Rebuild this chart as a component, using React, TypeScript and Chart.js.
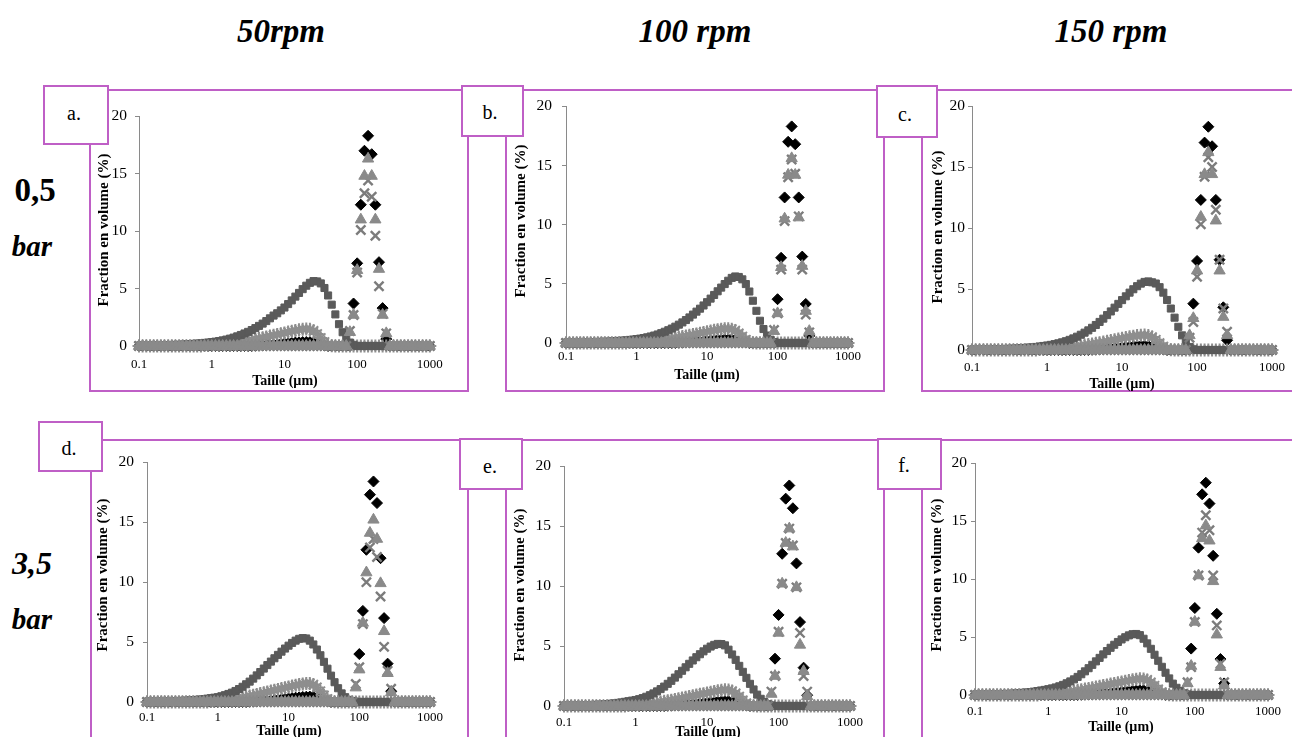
import React, { useEffect, useRef } from "react";
import { Chart, registerables } from "chart.js";
Chart.register(...registerables);

// ---------- DATA ----------
const SIZES = [
  0.1, 0.112, 0.126, 0.142, 0.159, 0.178, 0.2, 0.224, 0.252, 0.283,
  0.317, 0.356, 0.399, 0.448, 0.502, 0.564, 0.632, 0.71, 0.796, 0.893,
  1.002, 1.125, 1.262, 1.416, 1.589, 1.783, 2.0, 2.244, 2.518, 2.825,
  3.17, 3.557, 3.991, 4.477, 5.024, 5.637, 6.325, 7.096, 7.962, 8.934,
  10.02, 11.25, 12.62, 14.16, 15.89, 17.83, 20.0, 22.44, 25.18, 28.25,
  31.7, 35.57, 39.9, 44.77, 50.24, 56.37, 63.25, 70.96, 79.62, 89.34,
  100.2, 112.5, 126.2, 141.6, 158.9, 178.3, 200.0, 224.4, 251.8, 282.5,
  317.0, 355.7, 399.1, 447.7, 502.4, 563.7, 632.5, 709.6, 796.2, 893.4,
  1000,
];
const X_TICKS = [0.1, 1, 10, 100, 1000];
const Y_TICKS = [0, 5, 10, 15, 20];

// Panel a (50 rpm, 0,5 bar)
const A_SQUARES = [
  0.03, 0.03, 0.04, 0.04, 0.05, 0.05, 0.06, 0.07, 0.08, 0.09,
  0.10, 0.11, 0.13, 0.15, 0.17, 0.19, 0.21, 0.24, 0.27, 0.30,
  0.34, 0.38, 0.43, 0.49, 0.56, 0.64, 0.73, 0.84, 0.96, 1.09,
  1.23, 1.39, 1.56, 1.75, 1.95, 2.17, 2.41, 2.65, 2.85, 3.10,
  3.35, 3.65, 3.97, 4.30, 4.62, 4.95, 5.25, 5.50, 5.65, 5.62,
  5.45, 5.05, 4.40, 3.60, 2.75, 1.90, 1.20, 0.65, 0.30, 0.10,
  0, 0, 0, 0, 0, 0, 0, 0, 0, 0,
  0, 0, 0, 0, 0, 0, 0, 0, 0, 0,
  0,
];
const A_STARS = [
  0, 0, 0, 0, 0, 0, 0, 0, 0, 0,
  0, 0, 0, 0, 0, 0, 0, 0, 0.05, 0.07,
  0.10, 0.12, 0.15, 0.18, 0.21, 0.25, 0.29, 0.33, 0.38, 0.43,
  0.48, 0.54, 0.60, 0.66, 0.72, 0.79, 0.86, 0.93, 1.00, 1.07,
  1.14, 1.21, 1.28, 1.35, 1.41, 1.46, 1.48, 1.45, 1.32, 1.05,
  0.70, 0.35, 0.12, 0.03, 0, 0, 0, 0, 0, 0,
  0, 0, 0, 0, 0, 0, 0, 0, 0, 0,
  0, 0, 0, 0, 0, 0, 0, 0, 0, 0,
  0,
];
const A_DIAMONDS = [
  0, 0, 0, 0, 0, 0, 0, 0, 0, 0,
  0, 0, 0, 0, 0, 0, 0, 0, 0, 0,
  0, 0, 0, 0, 0, 0, 0, 0, 0, 0,
  0, 0, 0.02, 0.03, 0.05, 0.07, 0.09, 0.12, 0.15, 0.18,
  0.21, 0.24, 0.27, 0.30, 0.32, 0.34, 0.35, 0.34, 0.30, 0.22,
  0.12, 0.04, 0, 0, 0, 0, 0, 0, 0, 3.7,
  7.2, 12.3, 17.0, 18.3, 16.7, 12.3, 7.3, 3.3, 0.6, 0,
  0, 0, 0, 0, 0, 0, 0, 0, 0, 0,
  0,
];
const A_TRIANGLES = [
  0, 0, 0, 0, 0, 0, 0, 0, 0, 0,
  0, 0, 0, 0, 0, 0, 0, 0, 0, 0,
  0, 0, 0, 0, 0, 0, 0, 0, 0, 0,
  0, 0, 0, 0, 0, 0, 0, 0, 0, 0,
  0, 0, 0, 0, 0, 0, 0, 0, 0, 0,
  0, 0, 0, 0, 0, 0, 0, 0, 1.2, 2.7,
  6.6, 11.0, 14.8, 16.3, 14.8, 11.0, 6.7, 2.7, 1.1, 0,
  0, 0, 0, 0, 0, 0, 0, 0, 0, 0,
  0,
];
const A_CROSSES = [
  0, 0, 0, 0, 0, 0, 0, 0, 0, 0,
  0, 0, 0, 0, 0, 0, 0, 0, 0, 0,
  0, 0, 0, 0, 0, 0, 0, 0, 0, 0,
  0, 0, 0, 0, 0, 0, 0, 0, 0, 0,
  0, 0, 0, 0, 0, 0, 0, 0, 0, 0,
  0, 0, 0, 0, 0, 0, 0, 0, 1.3, 2.7,
  6.4, 10.1, 13.3, 14.4, 13.0, 9.6, 5.2, 2.8, 1.1, 0,
  0, 0, 0, 0, 0, 0, 0, 0, 0, 0,
  0,
];

// Panel b (100 rpm, 0,5 bar)
const B_SQUARES = [
  0.03, 0.03, 0.04, 0.04, 0.05, 0.05, 0.06, 0.07, 0.08, 0.09,
  0.10, 0.11, 0.12, 0.14, 0.16, 0.18, 0.20, 0.23, 0.26, 0.29,
  0.33, 0.37, 0.42, 0.48, 0.55, 0.63, 0.72, 0.83, 0.95, 1.08,
  1.22, 1.38, 1.55, 1.74, 1.94, 2.16, 2.40, 2.65, 2.90, 3.17,
  3.45, 3.75, 4.06, 4.37, 4.68, 4.98, 5.26, 5.50, 5.62, 5.58,
  5.38, 4.98, 4.35, 3.57, 2.72, 1.88, 1.18, 0.63, 0.28, 0.08,
  0, 0, 0, 0, 0, 0, 0, 0, 0, 0,
  0, 0, 0, 0, 0, 0, 0, 0, 0, 0,
  0,
];
const B_STARS = [
  0, 0, 0, 0, 0, 0, 0, 0, 0, 0,
  0, 0, 0, 0, 0, 0, 0, 0, 0.04, 0.06,
  0.08, 0.10, 0.12, 0.14, 0.17, 0.20, 0.23, 0.27, 0.31, 0.35,
  0.39, 0.44, 0.49, 0.54, 0.59, 0.65, 0.71, 0.77, 0.83, 0.89,
  0.95, 1.01, 1.07, 1.12, 1.17, 1.20, 1.21, 1.17, 1.05, 0.82,
  0.55, 0.28, 0.10, 0.03, 0, 0, 0, 0, 0, 0,
  0, 0, 0, 0, 0, 0, 0, 0, 0, 0,
  0, 0, 0, 0, 0, 0, 0, 0, 0, 0,
  0,
];
const B_DIAMONDS = [
  0, 0, 0, 0, 0, 0, 0, 0, 0, 0,
  0, 0, 0, 0, 0, 0, 0, 0, 0, 0,
  0, 0, 0, 0, 0, 0, 0, 0, 0, 0,
  0, 0, 0.02, 0.03, 0.04, 0.06, 0.08, 0.10, 0.13, 0.16,
  0.19, 0.22, 0.24, 0.26, 0.28, 0.30, 0.31, 0.30, 0.27, 0.20,
  0.11, 0.04, 0, 0, 0, 0, 0, 0, 0, 0,
  3.7, 7.2, 12.3, 17.0, 18.3, 16.8, 12.3, 7.3, 3.3, 0.6,
  0, 0, 0, 0, 0, 0, 0, 0, 0, 0,
  0,
];
const B_TRIANGLES = [
  0, 0, 0, 0, 0, 0, 0, 0, 0, 0,
  0, 0, 0, 0, 0, 0, 0, 0, 0, 0,
  0, 0, 0, 0, 0, 0, 0, 0, 0, 0,
  0, 0, 0, 0, 0, 0, 0, 0, 0, 0,
  0, 0, 0, 0, 0, 0, 0, 0, 0, 0,
  0, 0, 0, 0, 0, 0, 0, 0, 0, 1.0,
  2.5, 6.4, 10.5, 14.2, 15.6, 14.2, 10.6, 6.5, 2.7, 1.0,
  0, 0, 0, 0, 0, 0, 0, 0, 0, 0,
  0,
];
const B_CROSSES = [
  0, 0, 0, 0, 0, 0, 0, 0, 0, 0,
  0, 0, 0, 0, 0, 0, 0, 0, 0, 0,
  0, 0, 0, 0, 0, 0, 0, 0, 0, 0,
  0, 0, 0, 0, 0, 0, 0, 0, 0, 0,
  0, 0, 0, 0, 0, 0, 0, 0, 0, 0,
  0, 0, 0, 0, 0, 0, 0, 0, 0, 1.1,
  2.5, 6.2, 10.3, 14.0, 15.5, 14.3, 10.7, 6.2, 2.4, 0.9,
  0, 0, 0, 0, 0, 0, 0, 0, 0, 0,
  0,
];

// Panel c (150 rpm, 0,5 bar)
const C_SQUARES = [
  0.03, 0.03, 0.04, 0.04, 0.05, 0.06, 0.06, 0.07, 0.08, 0.09,
  0.10, 0.12, 0.13, 0.15, 0.17, 0.20, 0.22, 0.25, 0.29, 0.33,
  0.37, 0.42, 0.48, 0.55, 0.63, 0.72, 0.83, 0.95, 1.09, 1.25,
  1.42, 1.61, 1.82, 2.05, 2.30, 2.57, 2.86, 3.16, 3.47, 3.78,
  4.09, 4.40, 4.70, 4.98, 5.23, 5.44, 5.58, 5.62, 5.55, 5.45,
  5.15, 4.70, 4.10, 3.40, 2.65, 1.90, 1.20, 0.60, 0.25, 0.06,
  0, 0, 0, 0, 0, 0, 0, 0, 0, 0,
  0, 0, 0, 0, 0, 0, 0, 0, 0, 0,
  0,
];
const C_STARS = [
  0, 0, 0, 0, 0, 0, 0, 0, 0, 0,
  0, 0, 0, 0, 0, 0, 0, 0, 0.04, 0.06,
  0.08, 0.10, 0.12, 0.14, 0.17, 0.20, 0.23, 0.27, 0.31, 0.35,
  0.40, 0.45, 0.50, 0.55, 0.60, 0.66, 0.72, 0.78, 0.84, 0.90,
  0.96, 1.02, 1.08, 1.13, 1.18, 1.21, 1.22, 1.18, 1.06, 0.84,
  0.56, 0.29, 0.11, 0.03, 0, 0, 0, 0, 0, 0,
  0, 0, 0, 0, 0, 0, 0, 0, 0, 0,
  0, 0, 0, 0, 0, 0, 0, 0, 0, 0,
  0,
];
const C_DIAMONDS = [
  0, 0, 0, 0, 0, 0, 0, 0, 0, 0,
  0, 0, 0, 0, 0, 0, 0, 0, 0, 0,
  0, 0, 0, 0, 0, 0, 0, 0, 0, 0,
  0, 0, 0.02, 0.03, 0.05, 0.07, 0.09, 0.12, 0.15, 0.18,
  0.21, 0.24, 0.27, 0.30, 0.32, 0.34, 0.35, 0.34, 0.30, 0.22,
  0.12, 0.04, 0, 0, 0, 0, 0, 0, 0, 3.8,
  7.3, 12.3, 17.0, 18.3, 16.7, 12.3, 7.4, 3.5, 0.8, 0,
  0, 0, 0, 0, 0, 0, 0, 0, 0, 0,
  0,
];
const C_TRIANGLES = [
  0, 0, 0, 0, 0, 0, 0, 0, 0, 0,
  0, 0, 0, 0, 0, 0, 0, 0, 0, 0,
  0, 0, 0, 0, 0, 0, 0, 0, 0, 0,
  0, 0, 0, 0, 0, 0, 0, 0, 0, 0,
  0, 0, 0, 0, 0, 0, 0, 0, 0, 0,
  0, 0, 0, 0, 0, 0, 0, 0, 1.2, 2.6,
  6.5, 10.9, 14.4, 16.2, 14.4, 10.6, 6.5, 2.7, 1.2, 0,
  0, 0, 0, 0, 0, 0, 0, 0, 0, 0,
  0,
];
const C_CROSSES = [
  0, 0, 0, 0, 0, 0, 0, 0, 0, 0,
  0, 0, 0, 0, 0, 0, 0, 0, 0, 0,
  0, 0, 0, 0, 0, 0, 0, 0, 0, 0,
  0, 0, 0, 0, 0, 0, 0, 0, 0, 0,
  0, 0, 0, 0, 0, 0, 0, 0, 0, 0,
  0, 0, 0, 0, 0, 0, 0, 0, 1.0, 2.3,
  6.0, 10.3, 14.2, 15.8, 15.0, 11.5, 7.4, 3.4, 1.5, 0,
  0, 0, 0, 0, 0, 0, 0, 0, 0, 0,
  0,
];

// Panel d (50 rpm, 3,5 bar)
const D_SQUARES = [
  0.03, 0.03, 0.04, 0.04, 0.05, 0.06, 0.06, 0.07, 0.08, 0.09,
  0.10, 0.12, 0.14, 0.16, 0.18, 0.21, 0.24, 0.28, 0.32, 0.36,
  0.40, 0.48, 0.57, 0.67, 0.78, 0.92, 1.08, 1.27, 1.48, 1.70,
  1.95, 2.22, 2.50, 2.79, 3.08, 3.37, 3.65, 3.93, 4.20, 4.46,
  4.70, 4.93, 5.12, 5.27, 5.33, 5.30, 5.12, 4.80, 4.38, 3.90,
  3.35, 2.78, 2.20, 1.65, 1.15, 0.72, 0.40, 0.18, 0.06, 0,
  0, 0, 0, 0, 0, 0, 0, 0, 0, 0,
  0, 0, 0, 0, 0, 0, 0, 0, 0, 0,
  0,
];
const D_STARS = [
  0, 0, 0, 0, 0, 0, 0, 0, 0, 0,
  0, 0, 0, 0, 0, 0, 0, 0, 0.05, 0.07,
  0.10, 0.13, 0.16, 0.20, 0.24, 0.28, 0.33, 0.38, 0.44, 0.50,
  0.56, 0.63, 0.70, 0.77, 0.84, 0.91, 0.98, 1.05, 1.12, 1.19,
  1.26, 1.33, 1.40, 1.46, 1.51, 1.55, 1.55, 1.45, 1.22, 0.90,
  0.55, 0.25, 0.08, 0.02, 0, 0, 0, 0, 0, 0,
  0, 0, 0, 0, 0, 0, 0, 0, 0, 0,
  0, 0, 0, 0, 0, 0, 0, 0, 0, 0,
  0,
];
const D_DIAMONDS = [
  0, 0, 0, 0, 0, 0, 0, 0, 0, 0,
  0, 0, 0, 0, 0, 0, 0, 0, 0, 0,
  0, 0, 0, 0, 0, 0, 0, 0, 0, 0.02,
  0.03, 0.04, 0.06, 0.08, 0.10, 0.13, 0.16, 0.19, 0.22, 0.26,
  0.29, 0.33, 0.36, 0.39, 0.42, 0.44, 0.45, 0.43, 0.38, 0.29,
  0.17, 0.06, 0, 0, 0, 0, 0, 0, 0, 0,
  4.0, 7.6, 12.7, 17.3, 18.4, 16.6, 12.0, 7.0, 3.2, 0.9,
  0, 0, 0, 0, 0, 0, 0, 0, 0, 0,
  0,
];
const D_TRIANGLES = [
  0, 0, 0, 0, 0, 0, 0, 0, 0, 0,
  0, 0, 0, 0, 0, 0, 0, 0, 0, 0,
  0, 0, 0, 0, 0, 0, 0, 0, 0, 0,
  0, 0, 0, 0, 0, 0, 0, 0, 0, 0,
  0, 0, 0, 0, 0, 0, 0, 0, 0, 0,
  0, 0, 0, 0, 0, 0, 0, 0, 0, 1.2,
  2.7, 6.6, 10.8, 14.1, 15.2, 13.6, 9.9, 5.9, 2.4, 0.8,
  0, 0, 0, 0, 0, 0, 0, 0, 0, 0,
  0,
];
const D_CROSSES = [
  0, 0, 0, 0, 0, 0, 0, 0, 0, 0,
  0, 0, 0, 0, 0, 0, 0, 0, 0, 0,
  0, 0, 0, 0, 0, 0, 0, 0, 0, 0,
  0, 0, 0, 0, 0, 0, 0, 0, 0, 0,
  0, 0, 0, 0, 0, 0, 0, 0, 0, 0,
  0, 0, 0, 0, 0, 0, 0, 0, 0, 1.5,
  2.9, 6.5, 10.0, 12.9, 13.6, 12.1, 8.8, 4.6, 2.6, 1.1,
  0, 0, 0, 0, 0, 0, 0, 0, 0, 0,
  0,
];

// Panel e (100 rpm, 3,5 bar)
const E_SQUARES = [
  0.03, 0.03, 0.04, 0.05, 0.05, 0.06, 0.07, 0.08, 0.09, 0.10,
  0.12, 0.14, 0.16, 0.19, 0.22, 0.26, 0.30, 0.35, 0.40, 0.45,
  0.50, 0.57, 0.66, 0.77, 0.90, 1.05, 1.22, 1.41, 1.62, 1.85,
  2.10, 2.37, 2.65, 2.94, 3.23, 3.52, 3.80, 4.07, 4.32, 4.56,
  4.78, 4.96, 5.10, 5.18, 5.17, 5.06, 4.70, 4.30, 3.85, 3.35,
  2.85, 2.35, 1.85, 1.38, 0.95, 0.60, 0.33, 0.15, 0.05, 0,
  0, 0, 0, 0, 0, 0, 0, 0, 0, 0,
  0, 0, 0, 0, 0, 0, 0, 0, 0, 0,
  0,
];
const E_STARS = [
  0, 0, 0, 0, 0, 0, 0, 0, 0, 0,
  0, 0, 0, 0, 0, 0, 0, 0, 0.05, 0.07,
  0.09, 0.11, 0.14, 0.17, 0.21, 0.25, 0.29, 0.34, 0.39, 0.44,
  0.49, 0.55, 0.61, 0.67, 0.73, 0.79, 0.85, 0.91, 0.97, 1.03,
  1.09, 1.15, 1.21, 1.27, 1.32, 1.35, 1.34, 1.25, 1.05, 0.78,
  0.48, 0.22, 0.07, 0.02, 0, 0, 0, 0, 0, 0,
  0, 0, 0, 0, 0, 0, 0, 0, 0, 0,
  0, 0, 0, 0, 0, 0, 0, 0, 0, 0,
  0,
];
const E_DIAMONDS = [
  0, 0, 0, 0, 0, 0, 0, 0, 0, 0,
  0, 0, 0, 0, 0, 0, 0, 0, 0, 0,
  0, 0, 0, 0, 0, 0, 0, 0, 0, 0.02,
  0.03, 0.04, 0.05, 0.07, 0.09, 0.12, 0.15, 0.18, 0.21, 0.24,
  0.27, 0.30, 0.33, 0.36, 0.38, 0.40, 0.40, 0.38, 0.33, 0.25,
  0.14, 0.05, 0, 0, 0, 0, 0, 0, 0, 3.95,
  7.6, 12.7, 17.3, 18.4, 16.5, 11.9, 7.0, 3.2, 0.9, 0,
  0, 0, 0, 0, 0, 0, 0, 0, 0, 0,
  0,
];
const E_TRIANGLES = [
  0, 0, 0, 0, 0, 0, 0, 0, 0, 0,
  0, 0, 0, 0, 0, 0, 0, 0, 0, 0,
  0, 0, 0, 0, 0, 0, 0, 0, 0, 0,
  0, 0, 0, 0, 0, 0, 0, 0, 0, 0,
  0, 0, 0, 0, 0, 0, 0, 0, 0, 0,
  0, 0, 0, 0, 0, 0, 0, 0, 1.0, 2.5,
  6.1, 10.2, 13.6, 14.8, 13.3, 9.9, 5.1, 2.9, 0.8, 0,
  0, 0, 0, 0, 0, 0, 0, 0, 0, 0,
  0,
];
const E_CROSSES = [
  0, 0, 0, 0, 0, 0, 0, 0, 0, 0,
  0, 0, 0, 0, 0, 0, 0, 0, 0, 0,
  0, 0, 0, 0, 0, 0, 0, 0, 0, 0,
  0, 0, 0, 0, 0, 0, 0, 0, 0, 0,
  0, 0, 0, 0, 0, 0, 0, 0, 0, 0,
  0, 0, 0, 0, 0, 0, 0, 0, 1.2, 2.5,
  6.2, 10.2, 13.6, 14.8, 13.4, 9.9, 6.1, 2.5, 1.2, 0,
  0, 0, 0, 0, 0, 0, 0, 0, 0, 0,
  0,
];

// Panel f (150 rpm, 3,5 bar)
const F_SQUARES = [
  0.03, 0.03, 0.04, 0.05, 0.05, 0.06, 0.07, 0.08, 0.09, 0.10,
  0.12, 0.14, 0.16, 0.19, 0.22, 0.25, 0.29, 0.34, 0.39, 0.44,
  0.50, 0.57, 0.65, 0.75, 0.87, 1.01, 1.17, 1.35, 1.56, 1.79,
  2.04, 2.31, 2.60, 2.90, 3.20, 3.50, 3.79, 4.07, 4.33, 4.57,
  4.79, 4.98, 5.14, 5.24, 5.26, 5.16, 4.85, 4.45, 3.98, 3.47,
  2.95, 2.43, 1.92, 1.43, 0.98, 0.62, 0.34, 0.15, 0.05, 0,
  0, 0, 0, 0, 0, 0, 0, 0, 0, 0,
  0, 0, 0, 0, 0, 0, 0, 0, 0, 0,
  0,
];
const F_STARS = [
  0, 0, 0, 0, 0, 0, 0, 0, 0, 0,
  0, 0, 0, 0, 0, 0, 0, 0, 0.05, 0.07,
  0.09, 0.12, 0.15, 0.18, 0.22, 0.26, 0.30, 0.35, 0.40, 0.45,
  0.51, 0.57, 0.63, 0.69, 0.75, 0.81, 0.87, 0.94, 1.00, 1.06,
  1.12, 1.18, 1.25, 1.31, 1.36, 1.40, 1.39, 1.30, 1.09, 0.80,
  0.50, 0.23, 0.08, 0.02, 0, 0, 0, 0, 0, 0,
  0, 0, 0, 0, 0, 0, 0, 0, 0, 0,
  0, 0, 0, 0, 0, 0, 0, 0, 0, 0,
  0,
];
const F_DIAMONDS = [
  0, 0, 0, 0, 0, 0, 0, 0, 0, 0,
  0, 0, 0, 0, 0, 0, 0, 0, 0, 0,
  0, 0, 0, 0, 0, 0, 0, 0, 0, 0.02,
  0.03, 0.04, 0.05, 0.07, 0.09, 0.12, 0.15, 0.18, 0.21, 0.24,
  0.27, 0.30, 0.33, 0.36, 0.38, 0.40, 0.40, 0.38, 0.33, 0.25,
  0.14, 0.05, 0, 0, 0, 0, 0, 0, 0, 4.0,
  7.5, 12.7, 17.3, 18.3, 16.5, 12.0, 7.0, 3.1, 1.0, 0,
  0, 0, 0, 0, 0, 0, 0, 0, 0, 0,
  0,
];
const F_TRIANGLES = [
  0, 0, 0, 0, 0, 0, 0, 0, 0, 0,
  0, 0, 0, 0, 0, 0, 0, 0, 0, 0,
  0, 0, 0, 0, 0, 0, 0, 0, 0, 0,
  0, 0, 0, 0, 0, 0, 0, 0, 0, 0,
  0, 0, 0, 0, 0, 0, 0, 0, 0, 0,
  0, 0, 0, 0, 0, 0, 0, 0, 1.0, 2.5,
  6.3, 10.3, 13.5, 14.6, 13.3, 9.8, 5.2, 2.4, 0.8, 0,
  0, 0, 0, 0, 0, 0, 0, 0, 0, 0,
  0,
];
const F_CROSSES = [
  0, 0, 0, 0, 0, 0, 0, 0, 0, 0,
  0, 0, 0, 0, 0, 0, 0, 0, 0, 0,
  0, 0, 0, 0, 0, 0, 0, 0, 0, 0,
  0, 0, 0, 0, 0, 0, 0, 0, 0, 0,
  0, 0, 0, 0, 0, 0, 0, 0, 0, 0,
  0, 0, 0, 0, 0, 0, 0, 0, 1.1, 2.4,
  6.3, 10.3, 14.0, 15.5, 14.2, 10.3, 6.0, 2.7, 1.1, 0,
  0, 0, 0, 0, 0, 0, 0, 0, 0, 0,
  0,
];

const COL_TITLES = ["50rpm", "100 rpm", "150 rpm"];
const PANEL_LABELS = ["a.", "b.", "c.", "d.", "e.", "f."];
const Y_TITLE = "Fraction en volume (%)";
const X_TITLE = "Taille (µm)";

// ---------- STYLE / LAYOUT ----------
const PURPLE = "#bf5fc6";
const SERIF = "'Liberation Serif', 'Times New Roman', serif";
const C_DIA = "#000000";
const C_SQ = "#5a5a5a";
const C_TRI = "#8a8a8a";
const C_CROSS = "#7c7c7c";
const C_STAR = "#8e8e8e";

type Layout = {
  x0: number; x1: number; y20: number; y0: number; xl: number; ygap: number;
  ytX: number; ytY: number; tX: number; tY: number;
};
const LAYOUTS: Layout[] = [
  { x0: 139, x1: 430, y20: 113, y0: 346, xl: 19, ygap: 12, ytX: 103, ytY: 230, tX: 285, tY: 381 },
  { x0: 566, x1: 848, y20: 101, y0: 343, xl: 14, ygap: 14, ytX: 520, ytY: 221, tX: 707, tY: 375 },
  { x0: 972, x1: 1272, y20: 106, y0: 350, xl: 18, ygap: 7, ytX: 937, ytY: 227, tX: 1122, tY: 384 },
  { x0: 147, x1: 429.5, y20: 458, y0: 702, xl: 16, ygap: 13, ytX: 102, ytY: 575, tX: 289, tY: 731 },
  { x0: 563.5, x1: 849.5, y20: 462, y0: 706, xl: 17, ygap: 13, ytX: 519, ytY: 585, tX: 708, tY: 732 },
  { x0: 975, x1: 1268, y20: 463, y0: 695, xl: 17, ygap: 8, ytX: 936, ytY: 575, tX: 1121, tY: 727 },
];
const FRAMES = [
  { l: 90, t: 90, r: 468, b: 391 }, { l: 506, t: 90, r: 884, b: 391 }, { l: 922, t: 90, r: 1320, b: 391 },
  { l: 91, t: 440, r: 468, b: 760 }, { l: 506, t: 440, r: 884, b: 760 }, { l: 922, t: 440, r: 1320, b: 760 },
];
const BOXES = [
  { l: 44, t: 86, r: 108, b: 144, cx: 74, cy: 113 },
  { l: 462, t: 86, r: 523, b: 136, cx: 490, cy: 112 },
  { l: 877, t: 86, r: 937, b: 137, cx: 905, cy: 114 },
  { l: 39, t: 422, r: 102, b: 471, cx: 69, cy: 448 },
  { l: 460, t: 439, r: 522, b: 489, cx: 490, cy: 466 },
  { l: 878, t: 439, r: 941, b: 489, cx: 904, cy: 465 },
];

const PANEL_DATA = [
  [A_TRIANGLES, A_CROSSES, A_SQUARES, A_STARS, A_DIAMONDS],
  [B_TRIANGLES, B_CROSSES, B_SQUARES, B_STARS, B_DIAMONDS],
  [C_TRIANGLES, C_CROSSES, C_SQUARES, C_STARS, C_DIAMONDS],
  [D_TRIANGLES, D_CROSSES, D_SQUARES, D_STARS, D_DIAMONDS],
  [E_TRIANGLES, E_CROSSES, E_SQUARES, E_STARS, E_DIAMONDS],
  [F_TRIANGLES, F_CROSSES, F_SQUARES, F_STARS, F_DIAMONDS],
];

const PADL = 60, YW = 50, PADT = 14, PADR = 24, XH = 34;

function buildChart(canvas: HTMLCanvasElement, L: Layout, d: number[][]) {
  const pts = (vals: number[]) => SIZES.map((x, i) => ({ x, y: vals[i] }));
  const xFont = 13;
  return new Chart(canvas, {
    type: "scatter",
    data: {
      datasets: [
        { data: pts(d[0]), pointStyle: "triangle", pointRadius: 6.5, backgroundColor: C_TRI, borderColor: C_TRI, borderWidth: 1, clip: false } as any,
        { data: pts(d[1]), pointStyle: "crossRot", pointRadius: 6.5, backgroundColor: C_CROSS, borderColor: C_CROSS, borderWidth: 2.4, clip: false } as any,
        { data: pts(d[2]), pointStyle: "rect", pointRadius: 5, backgroundColor: C_SQ, borderColor: C_SQ, borderWidth: 1, clip: false } as any,
        { data: pts(d[3]), pointStyle: "star", pointRadius: 6.5, backgroundColor: C_STAR, borderColor: C_STAR, borderWidth: 2, clip: false } as any,
        { data: pts(d[4]), pointStyle: "rectRot", pointRadius: 5.5, backgroundColor: C_DIA, borderColor: C_DIA, borderWidth: 1, clip: false } as any,
      ],
    },
    options: {
      animation: false,
      responsive: false,
      maintainAspectRatio: false,
      events: [],
      layout: { padding: { left: PADL - YW, top: PADT, right: PADR, bottom: 0 } },
      plugins: { legend: { display: false }, tooltip: { enabled: false }, title: { display: false } },
      scales: {
        x: {
          type: "logarithmic",
          min: 0.1,
          max: 1000,
          afterBuildTicks: (s: any) => { s.ticks = X_TICKS.map((v) => ({ value: v })); },
          afterFit: (s: any) => { s.height = XH; },
          ticks: {
            callback: (v: any) => String(v),
            font: { family: SERIF, size: xFont, lineHeight: 1.2 },
            color: "#000",
            padding: L.xl - xFont * 0.6,
            maxRotation: 0,
            autoSkip: false,
          },
          grid: { display: false, drawTicks: false },
          border: { display: false },
        },
        y: {
          min: 0,
          max: 20,
          afterBuildTicks: (s: any) => { s.ticks = Y_TICKS.map((v) => ({ value: v })); },
          afterFit: (s: any) => { s.width = YW; },
          ticks: {
            font: { family: SERIF, size: 15.5 },
            color: "#000",
            padding: L.ygap - 4,
          },
          grid: { display: true, drawOnChartArea: false, drawTicks: true, tickLength: 4, color: "#8a8a8a", lineWidth: 1 },
          border: { display: true, color: "#8a8a8a", width: 1 },
        },
      },
    } as any,
  });
}

function Txt(props: { x: number; y: number; text: string; style: React.CSSProperties; rotate?: boolean }) {
  return (
    <div
      style={{
        position: "absolute",
        left: props.x,
        top: props.y,
        transform: `translate(-50%, -50%)${props.rotate ? " rotate(-90deg)" : ""}`,
        whiteSpace: "nowrap",
        lineHeight: 1,
        fontFamily: SERIF,
        color: "#000",
        ...props.style,
      }}
    >
      {props.text}
    </div>
  );
}

export default function App() {
  const refs = useRef<(HTMLCanvasElement | null)[]>([]);

  useEffect(() => {
    const charts: Chart[] = [];
    LAYOUTS.forEach((L, i) => {
      const c = refs.current[i];
      if (c) charts.push(buildChart(c, L, PANEL_DATA[i]));
    });
    return () => charts.forEach((ch) => ch.destroy());
  }, []);

  const headStyle: React.CSSProperties = { fontSize: 33, fontWeight: "bold", fontStyle: "italic" };

  return (
    <div style={{ position: "absolute", left: 0, top: 0, width: 1292, height: 737, background: "#fff", overflow: "hidden" }}>
      {FRAMES.map((f, i) => (
        <div key={"f" + i} style={{ position: "absolute", left: f.l - 1, top: f.t - 1, width: f.r - f.l + 2, height: f.b - f.t + 2, border: `2px solid ${PURPLE}`, boxSizing: "border-box" }} />
      ))}
      {LAYOUTS.map((L, i) => {
        const w = Math.round(L.x1 - L.x0 + PADL + PADR);
        const h = L.y0 - L.y20 + PADT + XH;
        return (
          <canvas
            key={"c" + i}
            ref={(el) => { refs.current[i] = el; }}
            width={w}
            height={h}
            style={{ position: "absolute", left: L.x0 - PADL, top: L.y20 - PADT, width: w, height: h }}
          />
        );
      })}
      {BOXES.map((b, i) => (
        <div key={"b" + i} style={{ position: "absolute", left: b.l - 1, top: b.t - 1, width: b.r - b.l + 2, height: b.b - b.t + 2, border: `2px solid ${PURPLE}`, boxSizing: "border-box", background: "#fff" }} />
      ))}
      {BOXES.map((b, i) => (
        <Txt key={"bl" + i} x={b.cx} y={b.cy} text={PANEL_LABELS[i]} style={{ fontSize: 20 }} />
      ))}
      {LAYOUTS.map((L, i) => (
        <Txt key={"yt" + i} x={L.ytX} y={L.ytY} text={Y_TITLE} rotate style={{ fontSize: 15, fontWeight: "bold" }} />
      ))}
      {LAYOUTS.map((L, i) => (
        <Txt key={"xt" + i} x={L.tX} y={L.tY} text={X_TITLE} style={{ fontSize: 14, fontWeight: "bold" }} />
      ))}
      <Txt x={281} y={31} text={COL_TITLES[0]} style={headStyle} />
      <Txt x={695} y={31} text={COL_TITLES[1]} style={headStyle} />
      <Txt x={1111} y={31} text={COL_TITLES[2]} style={headStyle} />
      <Txt x={35} y={190} text="0,5" style={{ fontSize: 33, fontWeight: "bold" }} />
      <Txt x={32} y={246} text="bar" style={{ fontSize: 29, fontWeight: "bold", fontStyle: "italic" }} />
      <Txt x={32} y={563} text="3,5" style={{ fontSize: 32, fontWeight: "bold", fontStyle: "italic" }} />
      <Txt x={32} y={619} text="bar" style={{ fontSize: 29, fontWeight: "bold", fontStyle: "italic" }} />
    </div>
  );
}
